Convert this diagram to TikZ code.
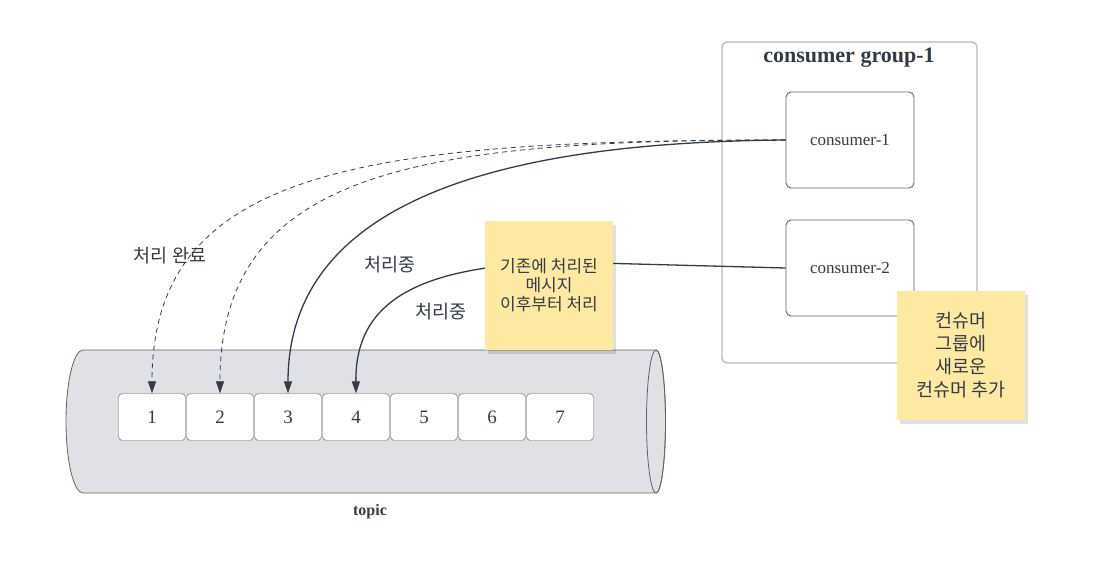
\documentclass[tikz,border=0pt]{standalone}
\usepackage{fontspec}
\setmainfont{Liberation Serif}
\newfontfamily\kr{Noto Sans CJK KR}
\usetikzlibrary{arrows.meta,shadows}
\definecolor{ink}{HTML}{333B45}
\definecolor{pipe}{HTML}{DFE1E6}
\definecolor{frame}{HTML}{B7B8BD}
\definecolor{edge}{HTML}{5F646B}
\definecolor{sticky}{HTML}{FEE9A3}

\begin{document}
\begin{tikzpicture}[x=1pt,y=-1pt,
        msg/.style={draw=edge,fill=white,rounded corners=4pt,inner sep=0pt,
          minimum width=67pt,minimum height=47pt,text=ink,font=\fontsize{19}{19}\selectfont},
        consumer/.style={draw=edge,line width=0.9pt,fill=white,rounded corners=5pt,
          minimum width=128pt,minimum height=96pt,text=ink,font=\fontsize{17}{20}\selectfont},
        group/.style={draw=frame,line width=1.3pt,rounded corners=5pt,
          minimum width=255pt,minimum height=321pt},
        note/.style={fill=sticky,minimum width=128pt,minimum height=129pt,align=center,
          text=ink,font=\kr\fontsize{17}{19}\selectfont,
          drop shadow={shadow xshift=3pt,shadow yshift=-4pt,opacity=0.12,fill=black}},
        lbl/.style={text=ink,font=\kr\fontsize{18.5}{20}\selectfont},
        arr/.style={-{Triangle[length=12pt,width=8pt]},line width=1.3pt,draw=ink},
        donearr/.style={arr,line width=0.8pt,dash pattern=on 5pt off 4pt}
      ]
        \useasboundingbox (0,0) rectangle (1106,564);

        % consumer group
        \node[group] (grp) at (849.5,202.5) {};
        \node[text=ink,font=\bfseries\fontsize{22}{22}\selectfont] (title) at (849,58) {consumer group-1};
        \node[consumer] (c1) at (850,140) {consumer-1};
        \node[consumer] (c2) at (850,268) {consumer-2};

        % topic
        \path[draw=edge,fill=pipe,line width=0.8pt] (656,350) -- (83,350)
          arc[start angle=90,end angle=270,x radius=17pt,y radius=71.5pt] -- (656,493)
          arc[start angle=-90,end angle=90,x radius=9.5pt,y radius=71.5pt] -- cycle;
        \draw[edge,line width=0.8pt] (656,421.5) ellipse[x radius=9.5pt,y radius=71.5pt];
        \foreach \i in {1,...,7}
          \node[msg] (b\i) at ({84+68*\i},417) {\i};
        \node[text=ink,font=\bfseries\fontsize{16}{16}\selectfont] (topic) at (370,512) {topic};

        % offsets
        \draw[donearr] (c1.west) .. controls (360,140) and (152,170) .. (b1.north);
        \draw[donearr] (c1.west) .. controls (420,140) and (220,170) .. (b2.north);
        \draw[arr] (c1.west) .. controls (540,142) and (288,185) .. (b3.north);
        \coordinate (via) at (560,262);
        \draw[arr] (c2.west) -- (via) .. controls (420,266) and (355,300) .. (b4.north);

        \node[lbl] (done) at (170,256) {처리 완료};
        \node[lbl] (busy3) at (390,265) {처리중};
        \node[lbl] (busy4) at (441,312) {처리중};

        % sticky notes
        \node[note] (note1) at (549,285.5) {기존에 처리된\\메시지\\이후부터 처리};
        \node[note,font=\kr\fontsize{18.5}{23}\selectfont] (note2) at (961,355.5)
          {컨슈머\\그룹에\\새로운\\컨슈머 추가};
      \end{tikzpicture}
\end{document}
